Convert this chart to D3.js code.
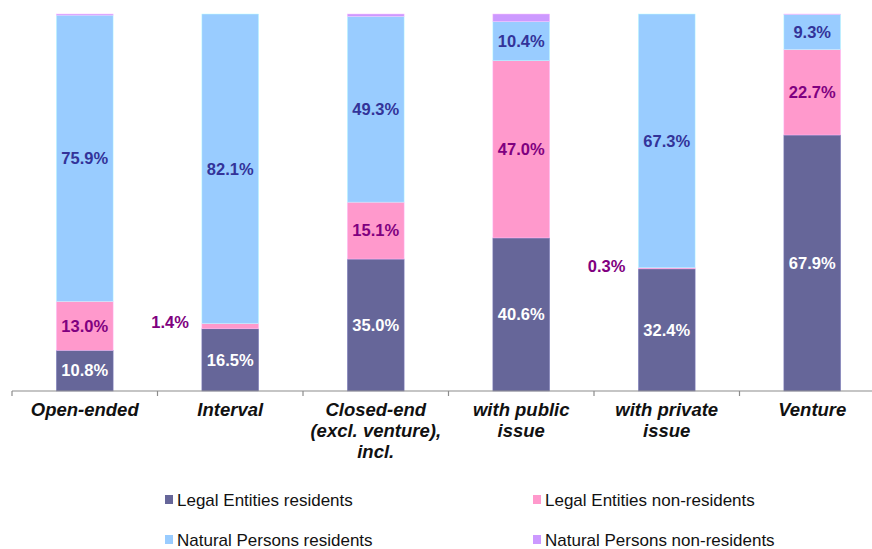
<!DOCTYPE html>
<html>
<head>
<meta charset="utf-8">
<script src="https://cdn.jsdelivr.net/npm/d3@7"></script>
<style>
  body { margin: 0; background: #fff; }
  svg { font-family: "Liberation Sans", Arial, sans-serif; }
</style>
</head>
<body>
<svg id="chart" width="872" height="549"></svg>
<script>
const categories = ["Open-ended", "Interval", "Closed-end\n(excl. venture),\nincl.", "with public\nissue", "with private\nissue", "Venture"];
const seriesNames = ["Legal Entities residents", "Legal Entities non-residents", "Natural Persons residents", "Natural Persons non-residents"];
const legalRes = [10.8, 16.5, 35.0, 40.6, 32.4, 67.9];
const legalNonRes = [13.0, 1.4, 15.1, 47.0, 0.3, 22.7];
const naturalRes = [75.9, 82.1, 49.3, 10.4, 67.3, 9.3];
const naturalNonRes = [0.3, 0.0, 0.6, 2.0, 0.0, 0.1];

const colors = ["#666699", "#ff99cc", "#99ccff", "#cc99ff"];
const labelColors = ["#ffffff", "#800080", "#333399", null];

const svg = d3.select("#chart");
const margin = { top: 14, bottom: 391, left: 12, right: 885 };

const rows = categories.map((c, i) => ({
  cat: c,
  s0: legalRes[i], s1: legalNonRes[i], s2: naturalRes[i], s3: naturalNonRes[i]
}));
const keys = ["s0", "s1", "s2", "s3"];
const stacked = d3.stack().keys(keys)(rows);

const x = d3.scaleBand().domain(categories).range([margin.left, margin.right]).paddingInner(0.61).paddingOuter(0.305);
const y = d3.scaleLinear().domain([0, 100]).range([margin.bottom, margin.top]);

// bars
const g = svg.append("g");
stacked.forEach((layer, li) => {
  g.selectAll(".bar" + li)
    .data(layer)
    .join("rect")
    .attr("x", d => x(d.data.cat))
    .attr("width", x.bandwidth())
    .attr("y", d => y(d[1]))
    .attr("height", d => Math.max(0, y(d[0]) - y(d[1])))
    .attr("fill", colors[li])
    .attr("stroke", d3.color(colors[li]).brighter(0.6))
    .attr("stroke-width", 0.5);
});

// value labels (tiny segments get their label beside the bar)
stacked.forEach((layer, li) => {
  if (!labelColors[li]) return;
  layer.forEach(d => {
    const v = d[1] - d[0];
    const small = v < 5;
    svg.append("text")
      .attr("x", small ? x(d.data.cat) - 13 : x(d.data.cat) + x.bandwidth() / 2)
      .attr("y", small ? y(d[1]) - 1 : y((d[0] + d[1]) / 2))
      .attr("dy", "0.35em")
      .attr("text-anchor", small ? "end" : "middle")
      .attr("font-size", 16.5)
      .attr("font-weight", "bold")
      .attr("fill", labelColors[li])
      .text(v.toFixed(1) + "%");
  });
});

// x axis
const axisG = svg.append("g").attr("transform", `translate(0,${margin.bottom})`);
axisG.append("line")
  .attr("x1", margin.left).attr("x2", 872)
  .attr("stroke", "#8c8c8c").attr("stroke-width", 1.2);
const step = x.step();
d3.range(categories.length).forEach(i => {
  const tx = margin.left + i * step;
  axisG.append("line").attr("x1", tx).attr("x2", tx).attr("y1", 0).attr("y2", 5)
    .attr("stroke", "#8c8c8c").attr("stroke-width", 1.2);
});
categories.forEach(c => {
  const t = axisG.append("text")
    .attr("x", x(c) + x.bandwidth() / 2)
    .attr("y", 25)
    .attr("text-anchor", "middle")
    .attr("font-size", 18.5)
    .attr("font-weight", "bold")
    .attr("font-style", "italic")
    .attr("fill", "#111");
  c.split("\n").forEach((line, i) => {
    t.append("tspan").attr("x", x(c) + x.bandwidth() / 2).attr("dy", i ? 21 : 0).text(line);
  });
});

// legend
const legendPos = [[165, 500], [533, 500], [165, 540], [533, 540]];
seriesNames.forEach((name, i) => {
  const [lx, ly] = legendPos[i];
  svg.append("rect").attr("x", lx).attr("y", ly - 5).attr("width", 8).attr("height", 9).attr("fill", colors[i]);
  svg.append("text").attr("x", lx + 12).attr("y", ly).attr("dy", "0.35em")
    .attr("font-size", 17).attr("fill", "#111").text(name);
});
</script>
</body>
</html>
